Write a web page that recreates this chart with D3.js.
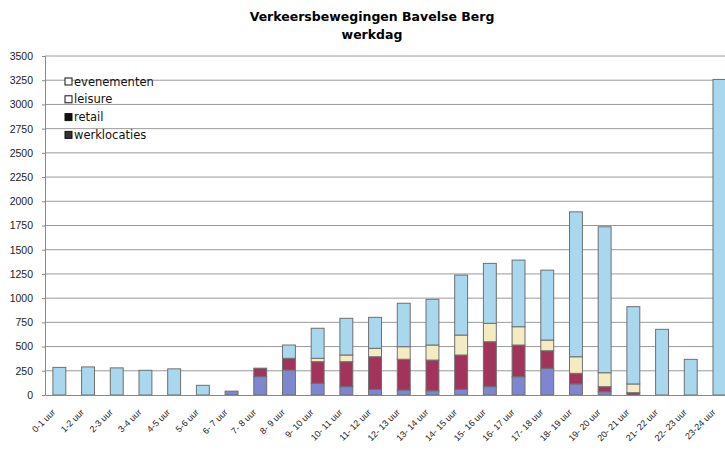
<!DOCTYPE html>
<html>
<head>
<meta charset="utf-8">
<script src="https://cdn.jsdelivr.net/npm/d3@7"></script>
<style>
  body { margin: 0; background: #fff; }
  svg { display: block; font-family: "DejaVu Sans", sans-serif; }
</style>
</head>
<body>
<div id="chart"></div>
<script>
// data
const categories = ["0-1 uur","1-2 uur","2-3 uur","3-4 uur","4-5 uur","5-6 uur","6- 7 uur","7- 8 uur",
  "8- 9 uur","9- 10 uur","10- 11 uur","11- 12 uur","12- 13 uur","13- 14 uur","14- 15 uur","15- 16 uur",
  "16- 17 uur","17- 18 uur","18- 19 uur","19- 20 uur","20- 21 uur","21- 22 uur","22- 23 uur","23-24 uur"];
const werklocaties = [0,0,0,0,0,0,40,190,258,121,86,59,52,44,59,86,189,275,114,34,0,0,0,0];
const retail       = [0,0,0,0,0,0,0,87,121,223,258,336,317,317,354,464,327,182,110,52,24,0,0,0];
const leisure      = [0,0,0,0,0,0,0,0,0,35,69,87,130,155,206,190,189,110,171,144,90,0,0,0];
const evenementen  = [285,290,280,255,270,100,0,0,137,310,379,320,448,472,619,619,688,722,1496,1507,798,678,368,3258];
const yTicks = [0,250,500,750,1000,1250,1500,1750,2000,2250,2500,2750,3000,3250,3500];

const seriesNames = ["werklocaties","retail","leisure","evenementen"];
const colors = { werklocaties: "#7d87cf", retail: "#a2345c", leisure: "#f3ecc2", evenementen: "#a9d7ee" };
// legend swatches look like the scanned ones
const legendFill = { evenementen: "#fff", leisure: "#fff", retail: "#111", werklocaties: "#333" };

const width = 725, height = 457;
const margin = { top: 56, left: 45, bottom: 62 };

const table = categories.map((c, i) => ({
  cat: c, werklocaties: werklocaties[i], retail: retail[i], leisure: leisure[i], evenementen: evenementen[i]
}));

const svg = d3.select("#chart").append("svg")
    .attr("width", width)
    .attr("height", height);

// last bar runs past the right edge, as in the scan
const x = d3.scaleBand()
    .domain(categories)
    .range([margin.left, margin.left + 24 * 28.7])
    .paddingInner(0.55)
    .paddingOuter(0.275);

const y = d3.scaleLinear()
    .domain([0, 3500])
    .range([height - margin.bottom, margin.top]);

// gridlines
svg.append("g")
  .selectAll("line")
  .data(yTicks.slice(1))
  .join("line")
    .attr("x1", margin.left)
    .attr("x2", width)
    .attr("y1", d => y(d))
    .attr("y2", d => y(d))
    .style("stroke", "#9a9a9a")
    .style("stroke-width", 1);

// y axis
const yAxis = svg.append("g")
    .attr("transform", `translate(${margin.left},0)`)
    .call(d3.axisLeft(y).tickValues(yTicks).tickFormat(d3.format("d")).tickSize(3).tickPadding(9));
yAxis.select(".domain").style("stroke", "#888");
yAxis.selectAll(".tick line").style("stroke", "#888");
yAxis.selectAll("text").style("font-size", "10.5px").style("fill", "#222");

// stacked bars
const stack = d3.stack().keys(seriesNames)(table);
svg.append("g")
  .selectAll("g")
  .data(stack)
  .join("g")
    .style("fill", d => colors[d.key])
  .selectAll("rect")
  .data(d => d.filter(p => p[1] - p[0] > 0))
  .join("rect")
    .attr("x", d => x(d.data.cat))
    .attr("y", d => y(d[1]))
    .attr("width", x.bandwidth())
    .attr("height", d => y(d[0]) - y(d[1]))
    .style("stroke", "#6f6f6f")
    .style("stroke-width", 1);

// x axis
const xAxis = svg.append("g")
    .attr("transform", `translate(0,${height - margin.bottom})`)
    .call(d3.axisBottom(x).tickSize(0));
xAxis.select(".domain").style("stroke", "#888");
xAxis.selectAll("text")
    .style("font-size", "9px")
    .style("fill", "#222")
    .style("text-anchor", "end")
    .attr("x", -15)
    .attr("y", 7)
    .attr("dy", "0.35em")
    .attr("transform", "rotate(-45)");

// title
svg.append("text")
    .attr("x", 372).attr("y", 21)
    .attr("text-anchor", "middle")
    .style("font-size", "12.5px").style("font-weight", "bold")
    .text("Verkeersbewegingen Bavelse Berg");
svg.append("text")
    .attr("x", 372).attr("y", 39)
    .attr("text-anchor", "middle")
    .style("font-size", "12.5px").style("font-weight", "bold")
    .text("werkdag");

// legend
const legendOrder = ["evenementen","leisure","retail","werklocaties"];
const legend = svg.append("g").attr("transform", "translate(65,78)");
legendOrder.forEach((name, i) => {
  const row = legend.append("g").attr("transform", `translate(0,${i * 17.8})`);
  row.append("rect")
      .attr("width", 7).attr("height", 7)
      .style("fill", legendFill[name])
      .style("stroke", "#111");
  row.append("text")
      .attr("x", 9).attr("y", 7.5)
      .style("font-size", "11.5px")
      .style("fill", "#111")
      .text(name);
});
</script>
</body>
</html>
